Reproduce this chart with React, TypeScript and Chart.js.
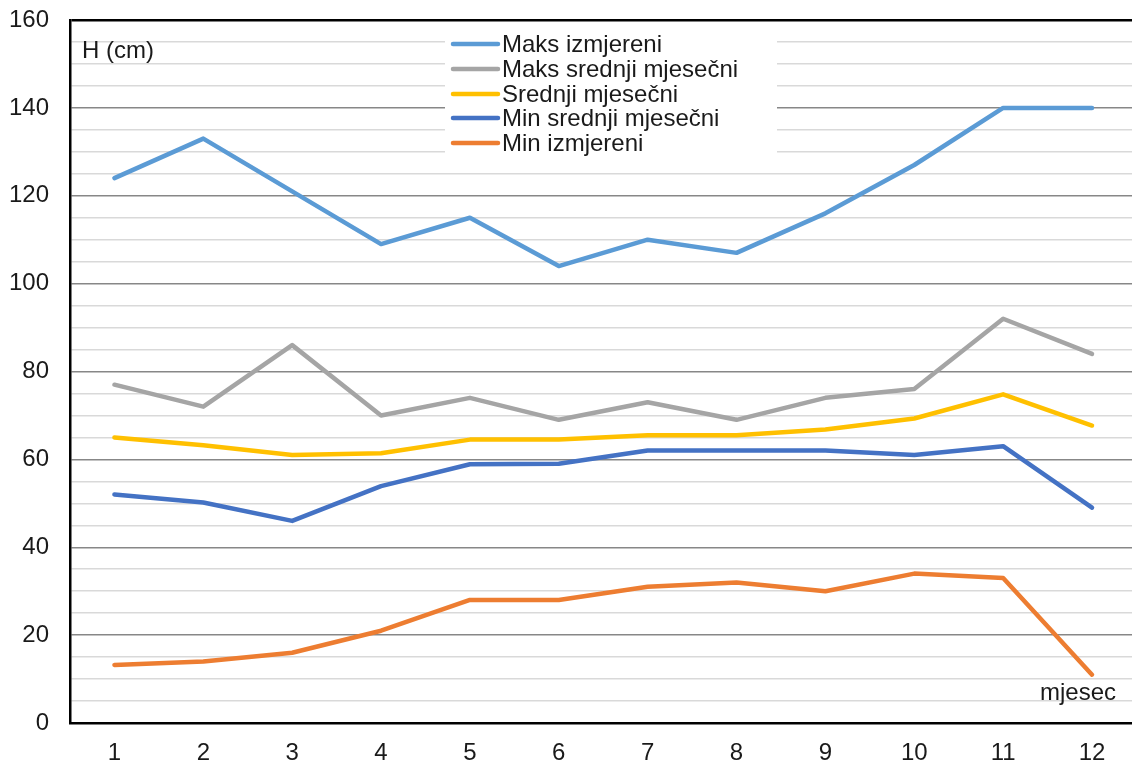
import React, { useEffect, useRef } from "react";
import { Chart, registerables } from "chart.js";

Chart.register(...registerables);

const months = [1, 2, 3, 4, 5, 6, 7, 8, 9, 10, 11, 12];
const maksIzmjereni = [124, 133, 121, 109, 115, 104, 110, 107, 116, 127, 140, 140];
const maksSrednji = [77, 72, 86, 70, 74, 69, 73, 69, 74, 76, 92, 84];
const srednji = [65, 63.2, 61, 61.4, 64.5, 64.5, 65.5, 65.5, 66.8, 69.3, 74.8, 67.7];
const minSrednji = [52, 50.2, 46, 53.9, 58.9, 59, 62, 62, 62, 61, 63, 49];
const minIzmjereni = [13.2, 14, 16, 21, 28, 28, 31, 32, 30, 34, 33, 11];

const seriesNames = ["Maks izmjereni", "Maks srednji mjesečni", "Srednji mjesečni", "Min srednji mjesečni", "Min izmjereni"];
const seriesColors = ["#5B9BD5", "#A5A5A5", "#FFC000", "#4472C4", "#ED7D31"];
const seriesValues = [maksIzmjereni, maksSrednji, srednji, minSrednji, minIzmjereni];

const yTicks: number[] = [];
for (let v = 0; v <= 160; v += 5) yTicks.push(v);

const FONT = "Liberation Sans, Arial, sans-serif";
const TEXT = "#1a1a1a";

const overlayPlugin = {
  id: "overlay",
  afterDraw(chart: any) {
    const ctx = chart.ctx;
    ctx.save();
    ctx.fillStyle = "#ffffff";
    ctx.fillRect(445, 22, 332, 138);
    ctx.font = `24px ${FONT}`;
    ctx.textBaseline = "middle";
    ctx.textAlign = "left";
    const rows = [44, 69, 94, 118, 143];
    seriesNames.forEach((name, i) => {
      ctx.strokeStyle = seriesColors[i];
      ctx.lineWidth = 4.5;
      ctx.lineCap = "round";
      ctx.beginPath();
      ctx.moveTo(453, rows[i]);
      ctx.lineTo(498, rows[i]);
      ctx.stroke();
      ctx.fillStyle = TEXT;
      ctx.fillText(name, 502, rows[i] + 1);
    });
    ctx.fillStyle = TEXT;
    ctx.fillText("H (cm)", 82, 51);
    ctx.fillText("mjesec", 1040, 693);
    ctx.restore();
  },
};

export default function App() {
  const ref = useRef<HTMLCanvasElement | null>(null);
  useEffect(() => {
    if (!ref.current) return;
    const chart = new Chart(ref.current, {
      type: "line",
      data: {
        datasets: seriesValues.map((vals, i) => ({
          label: seriesNames[i],
          data: months.map((m, j) => ({ x: m, y: vals[j] })),
          borderColor: seriesColors[i],
          backgroundColor: seriesColors[i],
          borderWidth: 4.5,
          pointRadius: 0,
          tension: 0,
          borderCapStyle: "round",
          borderJoinStyle: "round",
          fill: false,
        })),
      },
      options: {
        animation: false,
        responsive: false,
        maintainAspectRatio: false,
        layout: { padding: { top: 20, right: 0, left: 0, bottom: 0 } },
        plugins: { legend: { display: false }, tooltip: { enabled: false } },
        scales: {
          x: {
            type: "linear",
            min: 0.5,
            max: 12.45,
            afterBuildTicks: (scale: any) => {
              scale.ticks = months.map((m) => ({ value: m }));
            },
            afterFit: (scale: any) => {
              scale.height = 44;
              scale.paddingLeft = 0;
              scale.paddingRight = 0;
            },
            grid: { display: false, drawTicks: false },
            border: { display: true, color: "#000", width: 2.5 },
            ticks: {
              font: { family: FONT, size: 24 },
              color: TEXT,
              padding: 16,
              maxRotation: 0,
              autoSkip: false,
              callback: (v: any) => String(v),
            },
          },
          y: {
            min: 0,
            max: 160,
            afterBuildTicks: (scale: any) => {
              scale.ticks = yTicks.map((v) => ({ value: v }));
            },
            afterFit: (scale: any) => {
              scale.width = 70;
              scale.paddingTop = 0;
              scale.paddingBottom = 0;
            },
            grid: {
              drawTicks: false,
              tickLength: 0,
              lineWidth: (c: any) => (c.tick && c.tick.value === 160 ? 2.5 : 1.5),
              color: (c: any) => {
                const v = c.tick ? c.tick.value : 0;
                if (v === 160) return "#000";
                return v % 20 === 0 ? "#878787" : "#d9d9d9";
              },
            },
            border: { display: true, color: "#000", width: 2.5 },
            ticks: {
              font: { family: FONT, size: 24 },
              color: TEXT,
              padding: 21,
              autoSkip: false,
              callback: (v: any) => (Number(v) % 20 === 0 ? String(v) : ""),
            },
          },
        },
      } as any,
      plugins: [overlayPlugin],
    });
    return () => chart.destroy();
  }, []);
  return (
    <div style={{ position: "fixed", left: 0, top: 0, width: 1132, height: 767, background: "#fff" }}>
      <canvas ref={ref} width={1132} height={767} style={{ width: 1132, height: 767 }} />
    </div>
  );
}
